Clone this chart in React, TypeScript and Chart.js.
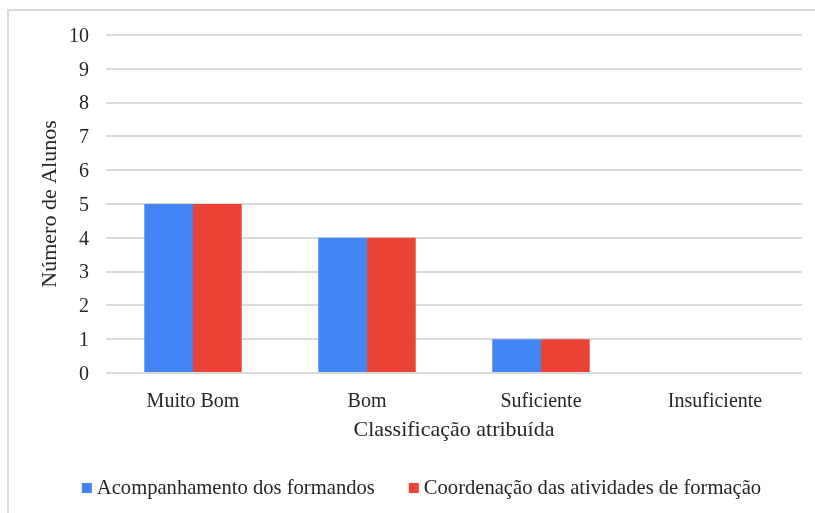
import React, { useEffect, useRef } from "react";
import { Chart, registerables } from "chart.js";

Chart.register(...registerables);

const categories = ["Muito Bom", "Bom", "Suficiente", "Insuficiente"];
const seriesNames = ["Acompanhamento dos formandos", "Coordenação das atividades de formação"];
const acompanhamento = [5, 4, 1, 0];
const coordenacao = [5, 4, 1, 0];
const yTitle = "Número de Alunos";
const xTitle = "Classificação atribuída";

const FONT = '"Liberation Serif", "Times New Roman", serif';
const TEXT = "#262626";
const GRID = "#d9d9d9";
const BLUE = "#4285F4";
const RED = "#EA4335";

const legendPlugin = {
  id: "customLegend",
  afterDraw(chart: any) {
    const ctx = chart.ctx;
    ctx.save();
    ctx.font = `20.6px ${FONT}`;
    ctx.textBaseline = "middle";
    ctx.textAlign = "left";
    const box = 10;
    const gap = 5;
    const itemGap = 34;
    const items = chart.data.datasets.map((d: any) => ({
      label: d.label,
      color: d.backgroundColor,
      w: box + gap + ctx.measureText(d.label).width,
    }));
    const total = items.reduce((s: number, it: any) => s + it.w, 0) + itemGap * (items.length - 1);
    const cy = 488;
    let x = 421.5 - total / 2;
    for (const it of items) {
      ctx.fillStyle = it.color;
      ctx.fillRect(x, cy - box / 2, box, box);
      ctx.fillStyle = TEXT;
      ctx.fillText(it.label, x + box + gap, cy + 1);
      x += it.w + itemGap;
    }
    ctx.restore();
  },
};

export default function App() {
  const ref = useRef<HTMLCanvasElement | null>(null);
  useEffect(() => {
    if (!ref.current) return;
    const chart = new Chart(ref.current, {
      type: "bar",
      data: {
        labels: categories,
        datasets: [
          { label: seriesNames[0], data: acompanhamento, backgroundColor: BLUE },
          { label: seriesNames[1], data: coordenacao, backgroundColor: RED },
        ],
      },
      options: {
        responsive: false,
        animation: false,
        devicePixelRatio: 1,
        layout: { padding: { left: 0, right: 13, top: 35, bottom: 45 } },
        datasets: { bar: { categoryPercentage: 0.56, barPercentage: 1 } },
        plugins: { legend: { display: false }, tooltip: { enabled: false } },
        scales: {
          x: {
            grid: { display: false },
            border: { display: false },
            ticks: { color: TEXT, font: { family: FONT, size: 20 }, padding: 9 },
            title: {
              display: true,
              text: xTitle,
              color: TEXT,
              font: { family: FONT, size: 22 },
              padding: { top: 0, bottom: 25 },
            },
            afterFit: (s: any) => {
              s.height = 95;
            },
          },
          y: {
            min: 0,
            max: 10,
            ticks: { stepSize: 1, color: TEXT, font: { family: FONT, size: 20 }, padding: 17, labelOffset: 1.5 },
            grid: { color: GRID, lineWidth: 2, drawTicks: false },
            border: { display: false },
            title: {
              display: true,
              text: yTitle,
              color: TEXT,
              font: { family: FONT, size: 22 },
              padding: { top: 37, bottom: 0 },
            },
            afterFit: (s: any) => {
              s.width = 106;
            },
          },
        },
      },
      plugins: [legendPlugin],
    });
    return () => chart.destroy();
  }, []);

  return (
    <div
      style={{
        position: "fixed",
        left: 0,
        top: 0,
        width: 815,
        height: 513,
        overflow: "hidden",
        background: "#fff",
      }}
    >
      <div
        style={{
          position: "absolute",
          left: 7,
          top: 9,
          width: 850,
          height: 560,
          border: `2px solid ${GRID}`,
        }}
      />
      <canvas
        ref={ref}
        width={815}
        height={513}
        style={{ position: "absolute", left: 0, top: 0, width: 815, height: 513 }}
      />
    </div>
  );
}
